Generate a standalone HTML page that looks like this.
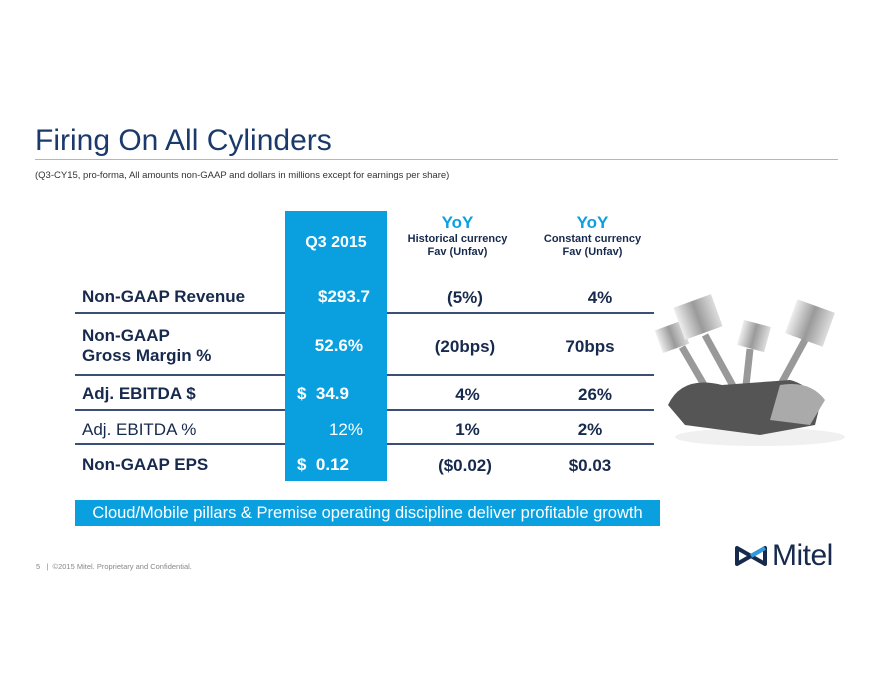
<!DOCTYPE html>
<html><head><meta charset="utf-8"><style>
body{margin:0;width:880px;height:680px;background:#fff;position:relative;overflow:hidden;font-family:"Liberation Sans",sans-serif}
.a{position:absolute}
.lbl{position:absolute;left:82px;color:#17294d;font-weight:bold;font-size:17px}
.v{position:absolute;color:#fff;font-weight:bold;font-size:17px;text-align:right}
.c{position:absolute;color:#17294d;font-weight:bold;font-size:17px;text-align:center}
.ln{position:absolute;height:2px;background:#3a4f75}
</style></head><body>
<div class="a" style="left:35px;top:124px;font-size:30px;color:#1b3a6b">Firing On All Cylinders</div>
<div class="a" style="left:35px;top:159px;width:803px;height:1px;background:#a9b8cc"></div>
<div class="a" style="left:35px;top:170px;font-size:9.5px;color:#333">(Q3-CY15, pro-forma, All amounts non-GAAP and dollars in millions except for earnings per share)</div>

<div class="a" style="left:285px;top:211px;width:102px;height:270px;background:#0aa0e0"></div>
<div class="a" style="left:285px;top:234px;width:102px;text-align:center;color:#fff;font-weight:bold;font-size:16px">Q3 2015</div>
<div class="a" style="left:390px;top:213px;width:135px;text-align:center;color:#17294d;font-weight:bold;font-size:11px;line-height:13px"><span style="color:#0aa0e0;font-size:17px;line-height:20px">YoY</span><br>Historical currency<br>Fav (Unfav)</div>
<div class="a" style="left:525px;top:213px;width:135px;text-align:center;color:#17294d;font-weight:bold;font-size:11px;line-height:13px"><span style="color:#0aa0e0;font-size:17px;line-height:20px">YoY</span><br>Constant currency<br>Fav (Unfav)</div>

<div class="lbl" style="top:287px">Non-GAAP Revenue</div>
<div class="v" style="left:285px;width:85px;top:287px">$293.7</div>
<div class="c" style="left:400px;width:130px;top:288px">(5%)</div>
<div class="c" style="left:535px;width:130px;top:288px">4%</div>
<div class="ln" style="left:75px;width:210px;top:312px"></div>
<div class="ln" style="left:387px;width:267px;top:312px"></div>

<div class="lbl" style="top:326px;line-height:20px">Non-GAAP<br>Gross Margin %</div>
<div class="v" style="left:285px;width:78px;top:336px">52.6%</div>
<div class="c" style="left:400px;width:130px;top:337px">(20bps)</div>
<div class="c" style="left:525px;width:130px;top:337px">70bps</div>
<div class="ln" style="left:75px;width:210px;top:374px"></div>
<div class="ln" style="left:387px;width:267px;top:374px"></div>

<div class="lbl" style="top:384px">Adj. EBITDA $</div>
<div class="v" style="left:285px;width:78px;top:384px;text-align:left;padding-left:12px">$&nbsp; 34.9</div>
<div class="c" style="left:400px;width:135px;top:385px">4%</div>
<div class="c" style="left:530px;width:130px;top:385px">26%</div>
<div class="ln" style="left:75px;width:210px;top:409px"></div>
<div class="ln" style="left:387px;width:267px;top:409px"></div>

<div class="lbl" style="top:420px;font-weight:normal">Adj. EBITDA %</div>
<div class="v" style="left:285px;width:78px;top:420px;font-weight:normal">12%</div>
<div class="c" style="left:400px;width:135px;top:420px">1%</div>
<div class="c" style="left:525px;width:130px;top:420px">2%</div>
<div class="ln" style="left:75px;width:210px;top:443px"></div>
<div class="ln" style="left:387px;width:267px;top:443px"></div>

<div class="lbl" style="top:455px">Non-GAAP EPS</div>
<div class="v" style="left:285px;width:78px;top:455px;text-align:left;padding-left:12px">$&nbsp; 0.12</div>
<div class="c" style="left:400px;width:130px;top:456px">($0.02)</div>
<div class="c" style="left:525px;width:130px;top:456px">$0.03</div>

<svg class="a" style="left:650px;top:285px" width="200" height="170">
<defs><linearGradient id="g" x1="0" x2="1"><stop offset="0" stop-color="#eee"/><stop offset=".5" stop-color="#9a9a9a"/><stop offset="1" stop-color="#ddd"/></linearGradient></defs>
<ellipse cx="110" cy="152" rx="85" ry="9" fill="#f0f0f0"/>
<rect x="8" y="40" width="28" height="24" fill="url(#g)" transform="rotate(-20 22 52)"/>
<rect x="28" y="15" width="40" height="34" fill="url(#g)" transform="rotate(-20 48 32)"/>
<rect x="90" y="38" width="28" height="26" fill="url(#g)" transform="rotate(15 104 51)"/>
<rect x="140" y="20" width="40" height="36" fill="url(#g)" transform="rotate(20 160 38)"/>
<path d="M32 62 L60 110 M55 50 L88 110 M100 64 L95 110 M155 55 L125 110" stroke="#999" stroke-width="7"/>
<path d="M18 120 Q32 90 72 100 L140 95 Q160 100 170 120 L165 140 L110 150 L35 140 Z" fill="#555"/>
<path d="M130 100 Q160 95 175 115 L160 140 L120 135 Z" fill="#aaa"/>
</svg>

<div class="a" style="left:75px;top:500px;width:585px;height:26px;background:#0aa0e0;color:#fff;font-size:16.5px;line-height:26px;text-align:center">Cloud/Mobile pillars &amp; Premise operating discipline deliver profitable growth</div>

<div class="a" style="left:36px;top:562px;font-size:7.5px;color:#888">5 &nbsp;&nbsp;| &nbsp;©2015 Mitel. Proprietary and Confidential.</div>
<div class="a" style="left:733px;top:541px;height:30px;display:flex;align-items:center">
<svg width="36" height="22" viewBox="0 0 36 22"><path d="M4 3 L4 19 L18 11 Z M32 3 L32 19 L18 11 Z" fill="none" stroke="#17294d" stroke-width="4" stroke-linejoin="round"/><path d="M18 11 L32 3" stroke="#2e9be0" stroke-width="4"/></svg>
<span style="font-size:30px;color:#17294d;margin-left:3px;letter-spacing:-0.5px">Mitel</span></div>
</body></html>
